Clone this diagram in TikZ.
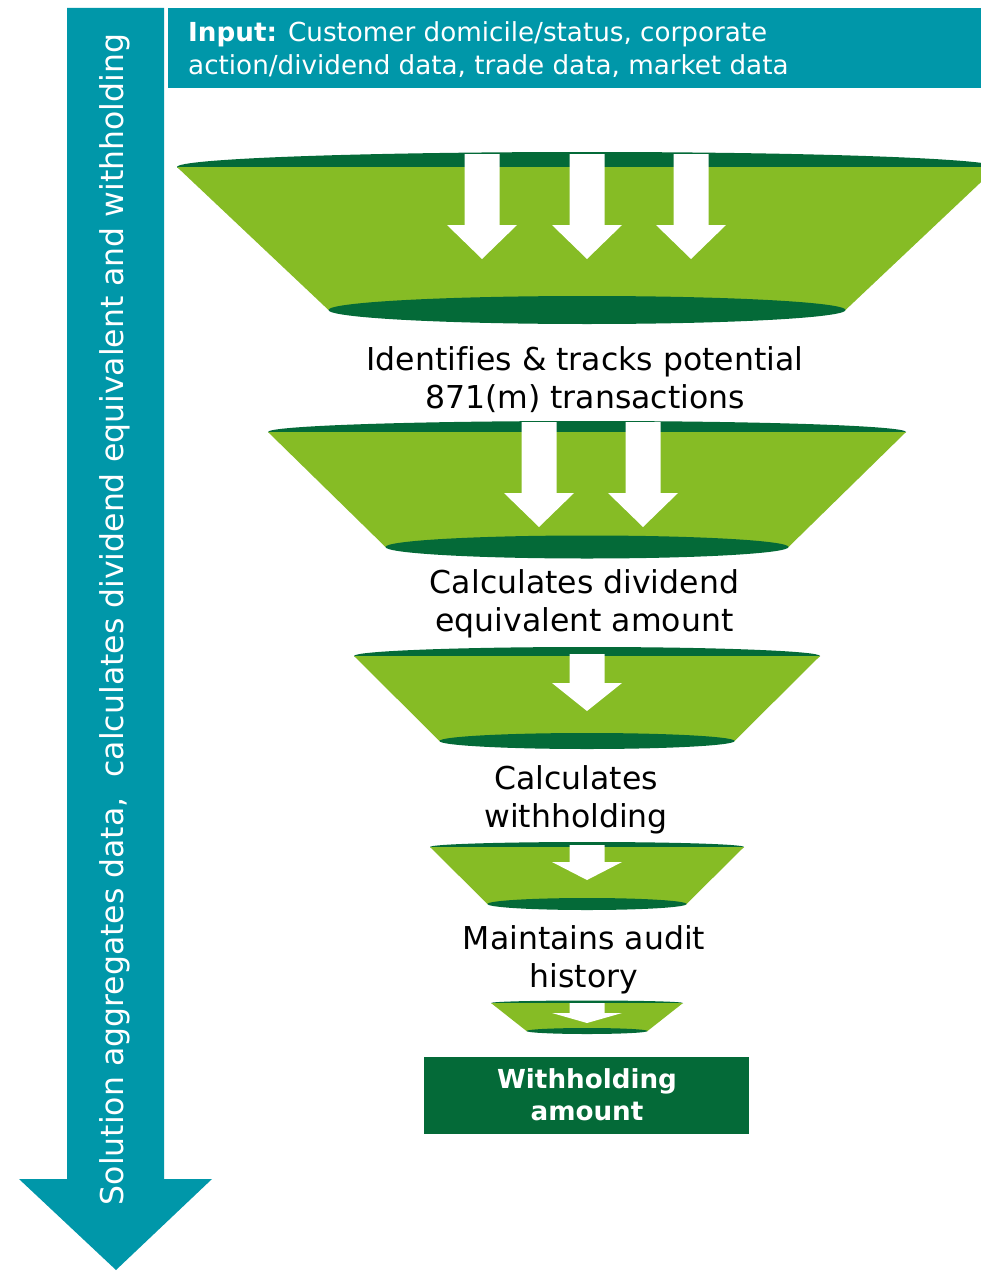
\documentclass[tikz,border=0pt]{standalone}
\usepackage{fontspec}
\setmainfont{DejaVu Sans}[Ligatures=NoCommon]
\definecolor{dgreen}{HTML}{046A38}
\definecolor{lgreen}{HTML}{86BC25}
\definecolor{dteal}{HTML}{0097A9}
% funnel: top y, top x-radius, top y-radius, bottom y, bottom x-radius, bottom y-radius
\newcommand\dfunnel[6]{%
  \fill[dgreen] (587,#1) ellipse [x radius=#2pt, y radius=#3pt];
  \fill[lgreen] (587-#2,#1) -- (587+#2,#1) -- (587+#5,#4) -- (587-#5,#4) -- cycle;
  \fill[dgreen] (587,#4) ellipse [x radius=#5pt, y radius=#6pt];}
% white down arrow: centre x, shaft top, head top, tip
\newcommand\dnarrow[4]{%
  \fill[white] (#1-17.5,#2) -- (#1+17.5,#2) -- (#1+17.5,#3) -- (#1+35,#3) -- (#1,#4)
    -- (#1-35,#3) -- (#1-17.5,#3) -- cycle;}
\begin{document}
\begin{tikzpicture}[x=1pt,y=-1pt,
  lbl/.style={inner sep=0pt, anchor=north, align=center, text=black,
    font=\fontsize{31.5}{38}\selectfont},
  inlbl/.style={inner sep=0pt, anchor=north west, align=left, text=white,
    font=\fontsize{26.2}{33.5}\selectfont},
  outlbl/.style={inner sep=0pt, anchor=north, align=center, text=white,
    font=\fontsize{26.2}{32}\selectfont\bfseries},
  sidelbl/.style={inner sep=0pt, anchor=base, rotate=90, text=white,
    font=\fontsize{31.5}{38}\selectfont}]
\clip (0,0) rectangle (981,1271);
\fill[white] (0,0) rectangle (981,1271);

% side arrow
\fill[dteal] (67,8) -- (164,8) -- (164,1179) -- (212,1179) -- (116,1270)
  -- (19,1179) -- (67,1179) -- cycle;
\node[sidelbl] (side) at (123,619.5)
  {Solution aggregates data,~ calculates dividend equivalent and withholding};

% input box
\fill[dteal] (168,8) rectangle (981,88);
\node[inlbl] (input) at (188,21.1)
  {\textbf{Input:} Customer domicile/status, corporate\\action/dividend data, trade data, market data};

% funnels
\dfunnel{167}{410}{15}{310}{258.5}{14}
\dnarrow{482}{154}{225}{259}
\dnarrow{587}{154}{225}{259}
\dnarrow{691}{154}{225}{259}
\node[lbl] (t1) at (585,346) {Identifies \& tracks potential\\871(m) transactions};

\dfunnel{432}{319}{11}{547}{201.5}{11.5}
\dnarrow{539}{422}{493}{527}
\dnarrow{643}{422}{493}{527}
\node[lbl] (t2) at (584.5,569) {Calculates dividend\\equivalent amount};

\dfunnel{656}{233}{9}{741}{147.5}{8}
\dnarrow{587}{654}{683}{711}
\node[lbl] (t3) at (576,765) {Calculates\\withholding};

\dfunnel{847}{157}{5}{904}{99.5}{6}
\dnarrow{587}{845}{862}{880}
\node[lbl] (t4) at (584,925) {Maintains audit\\history};

\dfunnel{1003}{96}{2.5}{1031}{60.5}{3}
\dnarrow{587}{1003}{1013}{1023}

% result box
\fill[dgreen] (424,1057) rectangle (749,1134);
\node[outlbl] (result) at (587,1068) {Withholding\\amount};
\end{tikzpicture}
\end{document}
